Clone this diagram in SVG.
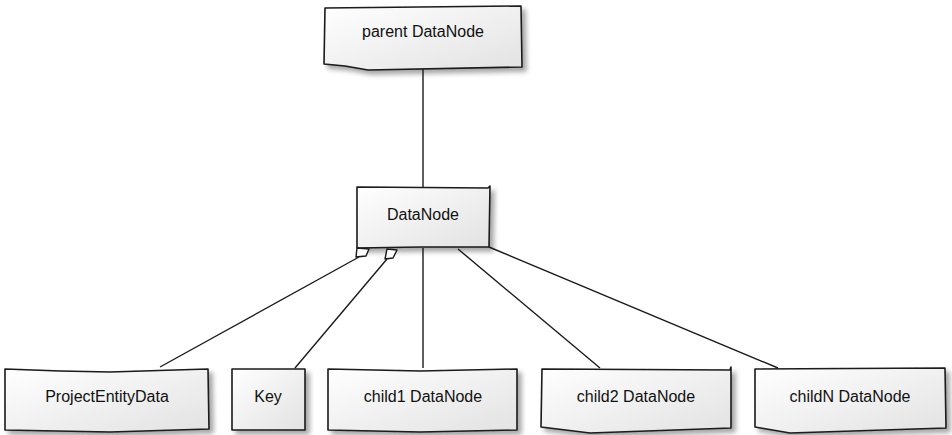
<svg xmlns="http://www.w3.org/2000/svg" width="952" height="435" viewBox="0 0 952 435">
<defs>
  <linearGradient id="fill" x1="0" y1="0" x2="1" y2="1">
    <stop offset="0" stop-color="#ffffff"/>
    <stop offset="1" stop-color="#e2e2e2"/>
  </linearGradient>
  <filter id="shadow" x="-10%" y="-20%" width="130%" height="150%">
    <feGaussianBlur in="SourceAlpha" stdDeviation="2.5"/>
    <feOffset dx="4" dy="4" result="b"/>
    <feComponentTransfer><feFuncA type="linear" slope="0.35"/></feComponentTransfer>
    <feMerge><feMergeNode/><feMergeNode in="SourceGraphic"/></feMerge>
  </filter>
</defs>
<style>
  .box { fill: url(#fill); stroke: #1a1a1a; stroke-width: 1.6; stroke-linejoin: round; filter: url(#shadow); }
  .lbl { font-family: "Liberation Sans", "DejaVu Sans", sans-serif; font-size: 16px; fill: #111; text-anchor: middle; }
  .edge { stroke: #1a1a1a; stroke-width: 1.4; fill: none; }
  .dia { fill: #ffffff; stroke: #1a1a1a; stroke-width: 1.4; stroke-linejoin: round; }
</style>
<rect width="952" height="435" fill="#ffffff"/>
<g id="node-parent">
  <path class="box" d="M325,8 L521,6 L522,67 L368,70 L345,66 L324,64 Z"/>
  <text class="lbl" x="423" y="37">parent DataNode</text>
</g>
<g id="node-datanode">
  <path class="box" d="M357,187 L488,188 L490,186 L489,247 L420,247 L357,248 Z"/>
  <text class="lbl" x="423" y="220">DataNode</text>
</g>
<g id="node-projectentitydata">
  <path class="box" d="M5,369 L60,371 L110,372 L208,369 L209,429 L110,432 L5,430 Z"/>
  <text class="lbl" x="107" y="402">ProjectEntityData</text>
</g>
<g id="node-key">
  <path class="box" d="M232,369 L305,369 L305,430 L232,430 Z"/>
  <text class="lbl" x="268" y="402">Key</text>
</g>
<g id="node-child1">
  <path class="box" d="M328,369 L420,371 L517,369 L517,430 L420,432 L328,430 Z"/>
  <text class="lbl" x="423" y="402">child1 DataNode</text>
</g>
<g id="node-child2">
  <path class="box" d="M542,369 L730,370 L731,367 L731,428 L590,433 L541,427 Z"/>
  <text class="lbl" x="636" y="402">child2 DataNode</text>
</g>
<g id="node-childN">
  <path class="box" d="M755,369 L945,368 L946,428 L790,433 L755,427 Z"/>
  <text class="lbl" x="850" y="402">childN DataNode</text>
</g>
<g id="connectors">
  <path class="edge" d="M423,69 L423,187"/>
  <path class="edge" d="M359,257 L160,367"/>
  <path class="edge" d="M387,259 L295,368"/>
  <path class="edge" d="M423,248 L423,368"/>
  <path class="edge" d="M458,249 L600,368"/>
  <path class="edge" d="M489,247 L778,368"/>
  <polygon class="dia" points="357,248 369,249 366,256 356,257"/>
  <polygon class="dia" points="387,249 397,250 393,258 385,259"/>
</g>
</svg>
